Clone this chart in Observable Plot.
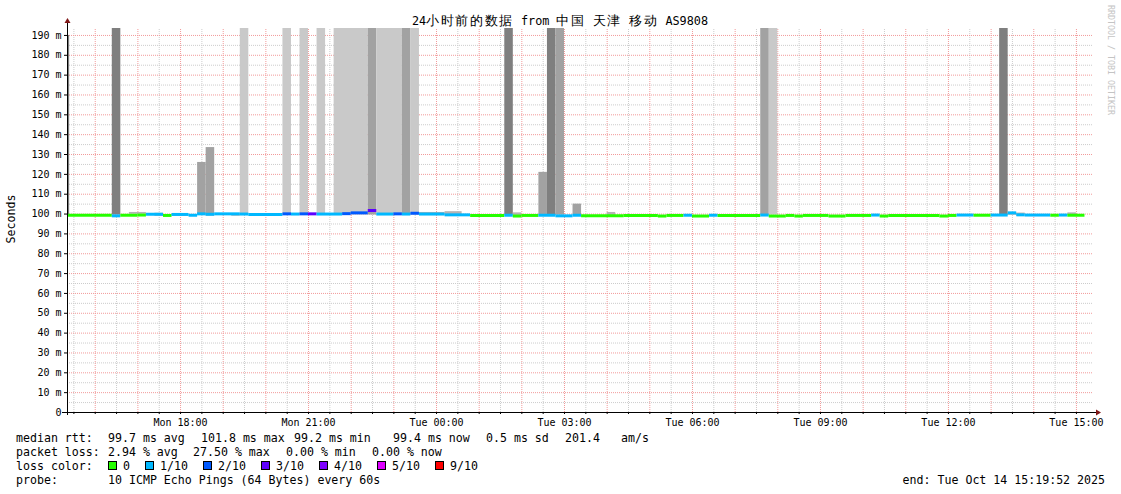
<!DOCTYPE html>
<html><head><meta charset="utf-8">
<script src="https://cdn.jsdelivr.net/npm/d3@7"></script>
<script src="https://cdn.jsdelivr.net/npm/@observablehq/plot@0.6"></script>
<style>
body{margin:0;background:#fff;}
#wrap{position:relative;width:1121px;height:494px;overflow:hidden;background:#fff;}
#wrap > *{position:absolute;left:0;top:0;}
</style></head><body>
<div id="wrap"></div>
<script>
// ---------- data ----------
const titleParts = ["24","小时前的数据"," from ","中国"," ","天津"," ","移动"," AS9808"];
const yLabel = "Seconds";
const watermark = "RRDTOOL / TOBI OETIKER";
const viewStart = "Mon 15:21", viewEnd = "Tue 15:24";
const xTickLabels = ["Mon 18:00","Mon 21:00","Tue 00:00","Tue 03:00","Tue 06:00","Tue 09:00","Tue 12:00","Tue 15:00"];
const yTickValues = [0,10,20,30,40,50,60,70,80,90,100,110,120,130,140,150,160,170,180,190];

const lossLabels = ["0","1/10","2/10","3/10","4/10","5/10","9/10"];
const lossColors = ["#26ff00","#00b8ff","#0059ff","#5e00ff","#7e00ff","#dd00ff","#ff0000"];

// median rtt runs: [start, loss bucket, median ms]; each run lasts until the next start
const medianRuns = [
 ["Mon 15:12",0,99.4],["Mon 16:24",1,99.1],["Mon 16:36",0,99.4],["Mon 17:00",0,99.5],
 ["Mon 17:12",1,99.9],["Mon 17:36",0,99.3],["Mon 17:48",1,99.8],["Mon 18:12",1,99.4],
 ["Mon 18:24",1,100.1],["Mon 18:36",1,99.9],["Mon 18:48",1,100.1],["Mon 19:24",1,100.0],
 ["Mon 19:36",1,99.8],["Mon 20:24",2,100.1],["Mon 20:36",1,100.0],["Mon 20:48",2,100.1],
 ["Mon 21:00",3,100.1],["Mon 21:12",1,100.0],["Mon 21:48",2,100.2],["Mon 22:00",2,100.6],
 ["Mon 22:24",3,101.8],["Mon 22:36",1,100.0],["Mon 23:00",2,100.1],["Mon 23:12",1,100.0],
 ["Mon 23:24",2,100.4],["Mon 23:36",1,100.0],["Tue 00:12",1,99.6],["Tue 00:48",0,99.3],
 ["Tue 01:36",1,99.4],["Tue 01:48",0,99.0],["Tue 02:00",0,99.3],["Tue 02:24",1,99.4],
 ["Tue 02:48",1,99.1],["Tue 03:12",1,99.4],["Tue 03:24",0,99.1],["Tue 04:24",0,99.3],
 ["Tue 05:12",0,99.0],["Tue 05:24",0,99.3],["Tue 05:48",1,99.4],["Tue 06:00",0,99.0],
 ["Tue 06:24",1,99.4],["Tue 06:36",0,99.3],["Tue 07:36",1,99.5],["Tue 07:48",0,99.0],
 ["Tue 08:12",0,99.3],["Tue 08:24",0,99.0],["Tue 08:36",0,99.3],["Tue 09:12",0,99.0],
 ["Tue 09:36",0,99.3],["Tue 10:12",1,99.5],["Tue 10:24",0,99.0],["Tue 10:36",0,99.3],
 ["Tue 11:48",0,99.0],["Tue 12:00",0,99.3],["Tue 12:12",1,99.5],["Tue 12:36",0,99.4],
 ["Tue 13:00",1,99.5],["Tue 13:24",1,100.6],["Tue 13:36",1,99.6],["Tue 13:48",1,99.5],
 ["Tue 14:24",0,99.4],["Tue 14:36",1,99.5],["Tue 14:48",0,99.4]
];
const medianEnd = "Tue 15:12";

// smoke spikes: [start, end, top ms, shade]
const spikes = [
 ["Mon 15:12","Mon 15:24",190,"dark"],
 ["Mon 16:24","Mon 16:36",200,"dark"],
 ["Mon 18:24","Mon 18:36",126,"mid"],
 ["Mon 18:36","Mon 18:48",133.5,"mid"],
 ["Mon 19:24","Mon 19:36",200,"light"],
 ["Mon 20:24","Mon 20:36",200,"light"],
 ["Mon 20:48","Mon 21:00",200,"light"],
 ["Mon 21:12","Mon 21:24",200,"light"],
 ["Mon 21:36","Mon 22:24",200,"light"],
 ["Mon 22:24","Mon 22:36",200,"mid"],
 ["Mon 22:36","Mon 23:12",200,"light"],
 ["Mon 23:12","Mon 23:24",200,"mid"],
 ["Mon 23:24","Mon 23:36",200,"light"],
 ["Tue 01:36","Tue 01:48",200,"dark"],
 ["Tue 02:24","Tue 02:36",121,"mid"],
 ["Tue 02:36","Tue 02:48",200,"dark"],
 ["Tue 02:48","Tue 03:00",200,"mid"],
 ["Tue 03:12","Tue 03:24",105,"mid"],
 ["Tue 07:36","Tue 07:48",200,"mid"],
 ["Tue 07:48","Tue 08:00",200,"light"],
 ["Tue 13:12","Tue 13:24",200,"dark"]
];
const spikeBase = 99.5;

// faint smoke around the median: [start, end, low ms, high ms]
const smoke = [
 ["Mon 16:48","Mon 17:12",99.9,100.8],["Mon 17:24","Mon 17:36",98.8,100.4],
 ["Mon 17:48","Mon 18:12",98.9,99.8],["Mon 18:36","Mon 18:48",98.9,99.8],
 ["Mon 19:12","Mon 19:24",98.9,100.0],["Mon 23:36","Tue 00:12",99.4,100.8],
 ["Tue 00:12","Tue 00:36",99.4,101.2],["Tue 01:48","Tue 02:00",99.0,100.6],
 ["Tue 04:00","Tue 04:12",99.0,100.8],["Tue 13:24","Tue 13:36",99.4,100.6],
 ["Tue 13:36","Tue 13:48",99.5,100.5],["Tue 14:48","Tue 15:00",99.4,100.6]
];

// legend text
const rttStats = [["median rtt:",16],["99.7 ms avg",108],["101.8 ms max",201],["99.2 ms min",294],["99.4 ms now",393],["0.5 ms sd",486],["201.4",565],["am/s",621]];
const lossStats = [["packet loss:",16],["2.94 % avg",108],["27.50 % max",193],["0.00 % min",286],["0.00 % now",372]];
const lossLegendX = [108,145,203,261,319,377,435];
const probeText = "10 ICMP Echo Pings (64 Bytes) every 60s";
const endText = "end: Tue Oct 14 15:19:52 2025";

// ---------- helpers ----------
const dayOffset = {Mon:0, Tue:24};
const hrs = s => { const [d, hm] = s.split(" "); const [h, m] = hm.split(":").map(Number); return dayOffset[d] + h + m/60; };
const shadeColor = {dark:"#7f7f7f", mid:"#a2a2a2", light:"#c9c9c9"};

const X0 = hrs(viewStart), X1 = hrs(viewEnd);
const YTOP = 193.5;

const medians = medianRuns.map((r, i) => ({
  t0: hrs(r[0]), t1: hrs(i + 1 < medianRuns.length ? medianRuns[i+1][0] : medianEnd),
  loss: r[1], v: r[2]
}));
const spikeData = spikes.map(s => ({t0: hrs(s[0]), t1: hrs(s[1]), top: s[2], shade: shadeColor[s[3]]}));
const smokeData = smoke.map(s => ({t0: hrs(s[0]), t1: hrs(s[1]), lo: s[2], hi: s[3]}));

const inX = v => v > X0 && v < X1;
const majorX = d3.range(Math.ceil(X0), X1, 1).filter(inX);
const minorX = d3.range(Math.ceil(X0 - 0.5) + 0.5, X1, 1).filter(inX);
const majorY = yTickValues.filter(v => v > 0);
const minorY = yTickValues.map(v => v + 5).filter(v => v < YTOP);
const xTicks = xTickLabels.map(hrs);
const xFmt = new Map(xTicks.map((t, i) => [t, xTickLabels[i]]));

const FONT = "'DejaVu Sans Mono', monospace";

const chart = Plot.plot({
  width: 1121, height: 430,
  marginLeft: 67, marginRight: 28, marginTop: 28, marginBottom: 18,
  x: {domain: [X0, X1], axis: null},
  y: {domain: [0, YTOP], axis: null},
  color: {type: "identity"},
  style: {fontFamily: FONT, fontSize: "10px", background: "transparent", overflow: "visible", color: "#000"},
  marks: [
    Plot.ruleX(minorX, {y1: 0, y2: YTOP, stroke: "#cccccc", strokeDasharray: "1,1"}),
    Plot.ruleY(minorY, {x1: X0, x2: X1, stroke: "#cccccc", strokeDasharray: "1,1"}),
    Plot.ruleX(majorX, {y1: 0, y2: YTOP, stroke: "#f29a9a", strokeDasharray: "1,1"}),
    Plot.ruleY(majorY, {x1: X0, x2: X1, stroke: "#f29a9a", strokeDasharray: "1,1"}),
    Plot.rect(spikeData, {x1: "t0", x2: "t1", y1: spikeBase, y2: "top", fill: "shade", clip: true}),
    Plot.rect(smokeData, {x1: "t0", x2: "t1", y1: "lo", y2: "hi", fill: "#b4b4b4", clip: true}),
    Plot.ruleY(medians, {x1: "t0", x2: "t1", y: "v", stroke: d => lossColors[d.loss], strokeWidth: 3, clip: true}),
    Plot.axisY({ticks: yTickValues, tickFormat: d => d === 0 ? "0" : `${d} m`, tickSize: 3, tickPadding: 3, label: null, fontSize: 10}),
    Plot.axisX({ticks: majorX.concat(minorX), tickFormat: () => "", tickSize: 2, label: null}),
    Plot.axisX({ticks: xTicks, tickFormat: d => xFmt.get(d), tickSize: 0, tickPadding: 6, label: null, fontSize: 10})
  ]
});

const wrap = document.getElementById("wrap");
wrap.appendChild(chart);

// axis lines with arrows
const sx = chart.scale("x"), sy = chart.scale("y");
const svg = d3.select(chart);
const xl = sx.apply(X0), xr = sx.apply(X1), yb = sy.apply(0), yt = sy.apply(YTOP);
const g = svg.append("g");
g.append("line").attr("x1", xl - 5).attr("x2", xr + 3).attr("y1", yb + 0.5).attr("y2", yb + 0.5).attr("stroke", "#000");
g.append("line").attr("x1", xl + 0.5).attr("x2", xl + 0.5).attr("y1", yb + 3).attr("y2", yt - 6).attr("stroke", "#000");
g.append("path").attr("d", `M${xr + 3},${yb - 2.5}L${xr + 8},${yb + 0.5}L${xr + 3},${yb + 3.5}Z`).attr("fill", "#7f1616");
g.append("path").attr("d", `M${xl - 2.5},${yt - 5}L${xl + 0.5},${yt - 10}L${xl + 3.5},${yt - 5}Z`).attr("fill", "#7f1616");

// text overlay: title, axis label, watermark, legend
const ov = d3.create("svg").attr("width", 1121).attr("height", 494)
  .style("font-family", FONT).style("pointer-events", "none");
const isCJK = s => /[\u3400-\u9fff]/.test(s);
const title = ov.append("text").attr("x", 560).attr("y", 25).attr("text-anchor", "middle")
  .attr("xml:space", "preserve").style("font-size", "11.8px");
titleParts.forEach(p => {
  const ts = title.append("tspan").text(p);
  if (isCJK(p)) ts.style("font-size", "12.6px").style("letter-spacing", "1.6px");
});
ov.append("text").attr("transform", "translate(15,219) rotate(-90)").attr("text-anchor", "middle")
  .style("font-size", "11.6px").text(yLabel);
ov.append("text").attr("transform", "translate(1108,5) rotate(90)")
  .style("font-size", "8.3px").attr("fill", "#c4c4c4").text(watermark);

const lg = ov.append("g").style("font-size", "11.6px").attr("xml:space", "preserve");
rttStats.forEach(([t, x]) => lg.append("text").attr("x", x).attr("y", 442).text(t));
lossStats.forEach(([t, x]) => lg.append("text").attr("x", x).attr("y", 456).text(t));
lg.append("text").attr("x", 16).attr("y", 470).text("loss color:");
lossLabels.forEach((t, i) => {
  const x = lossLegendX[i];
  lg.append("rect").attr("x", x + 0.5).attr("y", 461.5).attr("width", 8).attr("height", 8)
    .attr("fill", lossColors[i]).attr("stroke", "#000");
  lg.append("text").attr("x", x + 15).attr("y", 470).text(t);
});
lg.append("text").attr("x", 16).attr("y", 484).text("probe:");
lg.append("text").attr("x", 108).attr("y", 484).text(probeText);
lg.append("text").attr("x", 1105).attr("y", 484).attr("text-anchor", "end").text(endText);
wrap.appendChild(ov.node());
</script>
</body></html>
